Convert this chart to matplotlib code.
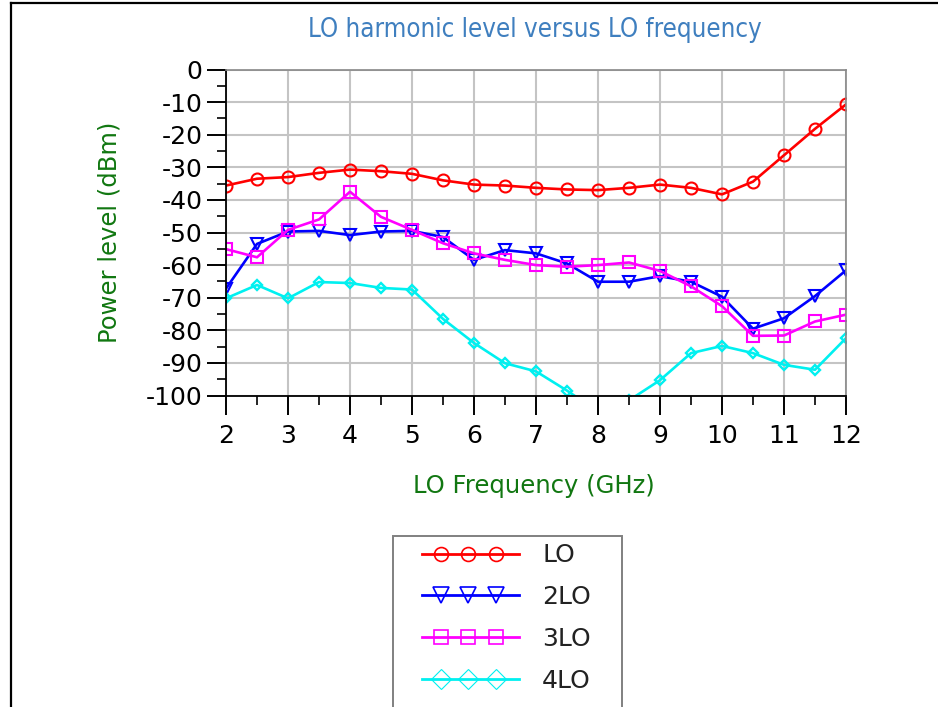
import numpy as np
import matplotlib
matplotlib.use("Agg")
import matplotlib.pyplot as plt
from matplotlib.lines import Line2D
from matplotlib.legend_handler import HandlerBase

plt.rcParams['axes.unicode_minus'] = False
plt.rcParams['font.family'] = ['DejaVu Sans']

# ---- data ----
freq = [2, 2.5, 3, 3.5, 4, 4.5, 5, 5.5, 6, 6.5, 7, 7.5, 8, 8.5, 9, 9.5, 10, 10.5, 11, 11.5, 12]
lo1 = [-35.6, -33.5, -33.0, -31.7, -30.7, -31.2, -32.0, -34.0, -35.3, -35.6, -36.3,
       -36.8, -37.0, -36.3, -35.3, -36.3, -38.3, -34.4, -26.3, -18.2, -10.7]
lo2 = [-67.2, -53.5, -49.7, -49.5, -50.8, -49.7, -49.5, -51.4, -58.4, -55.4, -56.4,
       -59.5, -65.1, -65.1, -63.4, -65.1, -69.7, -79.5, -76.3, -69.5, -61.6]
lo3 = [-55.1, -57.6, -49.2, -46.0, -37.5, -45.2, -49.2, -53.3, -56.4, -58.4, -60.0,
       -60.5, -60.0, -59.2, -61.8, -66.5, -72.6, -81.7, -81.6, -77.3, -75.2]
lo4 = [-70.2, -66.1, -70.2, -65.2, -65.5, -67.0, -67.5, -76.5, -83.9, -90.1, -92.6,
       -98.5, -105.0, -101.5, -95.3, -87.0, -84.8, -87.0, -90.6, -92.1, -82.4]
series_labels = ["LO", "2LO", "3LO", "4LO"]
xticks = [2, 3, 4, 5, 6, 7, 8, 9, 10, 11, 12]
yticks = [0, -10, -20, -30, -40, -50, -60, -70, -80, -90, -100]

W, H = 938, 707
fig = plt.figure(figsize=(W / 100, H / 100), dpi=100)
ax = fig.add_axes([226 / W, 1 - 395.5 / H, (846 - 226) / W, (395.5 - 69.5) / H])

styles = [
    dict(color='#ff0000', marker='o', ms=8.6, mew=1.5),
    dict(color='#0000ff', marker='v', ms=8.6, mew=1.5),
    dict(color='#ff00ff', marker='s', ms=8.0, mew=1.5),
    dict(color='#00f0f0', marker='D', ms=5.4, mew=1.7),
]
legend_ms = [10, 11, 10, 9.8]
legend_mew = [1.2, 1.2, 1.2, 0.8]

lines = []
for ys, lab, st in zip([lo1, lo2, lo3, lo4], series_labels, styles):
    ln, = ax.plot(freq, ys, color=st['color'], lw=1.9, marker=st['marker'],
                  markersize=st['ms'], markeredgewidth=st['mew'],
                  fillstyle='none', label=lab)
    lines.append(ln)

ax.set_xlim(2, 12)
ax.set_ylim(-100, 0)
ax.set_xticks(xticks)
ax.set_xticklabels([str(v) for v in xticks])
ax.set_yticks(yticks)
ax.set_yticklabels([str(v) for v in yticks])
ax.set_xticks(np.arange(2.5, 12, 1.0), minor=True)
ax.set_yticks(np.arange(-95, 0, 10.0), minor=True)
ax.tick_params(which='major', direction='out', length=13.7, width=1.4, pad=3.2,
               labelsize=18, color='black')
ax.tick_params(axis='x', which='major', pad=6.5)
ax.tick_params(which='minor', direction='out', length=6.8, width=1.2, color='black')

ax.grid(True, which='major', color='#c4c4c4', lw=1.5)
ax.set_axisbelow(True)
for s in ['left', 'bottom']:
    ax.spines[s].set_color('black')
    ax.spines[s].set_linewidth(1.3)
for s in ['top', 'right']:
    ax.spines[s].set_color('#888888')
    ax.spines[s].set_linewidth(1.2)

# ---- texts ----
fig.text(535 / W, 1 - 30 / H, "LO harmonic level versus LO frequency",
         ha='center', va='center', fontsize=18.5, color='#3f7fbf',
         fontstretch='condensed')
fig.text(534 / W, 1 - 486 / H, "LO Frequency (GHz)", ha='center', va='center',
         fontsize=17.5, color='#117711')
fig.text(110 / W, 1 - 232.5 / H, "Power level (dBm)", ha='center', va='center',
         rotation=90, fontsize=17.5, color='#117711')

# ---- figure border ----
fig.add_artist(Line2D([11 / W, 11 / W], [0, 1 - 3 / H], transform=fig.transFigure,
                      color='black', lw=1.6))
fig.add_artist(Line2D([11 / W, 1], [1 - 3 / H, 1 - 3 / H], transform=fig.transFigure,
                      color='black', lw=1.6))


# ---- legend ----
class ThreeMarkHandler(HandlerBase):
    def __init__(self, ms, mew):
        super().__init__()
        self.ms = ms
        self.mew = mew

    def create_artists(self, legend, orig, xdescent, ydescent, width, height,
                       fontsize, trans):
        y = height / 2 - ydescent
        x0 = -xdescent
        ln = Line2D([x0 + 0.18 * width, x0 + width], [y, y],
                    color=orig.get_color(), lw=2.0)
        xm = [x0 + f * width for f in (0.34, 0.569, 0.805)]
        mk = Line2D(xm, [y] * 3, linestyle='none', marker=orig.get_marker(),
                    markersize=self.ms, markeredgewidth=self.mew,
                    markeredgecolor=orig.get_color(), fillstyle='none')
        ln.set_transform(trans)
        mk.set_transform(trans)
        return [ln, mk]


blank = Line2D([], [], linestyle='none')
hmap = {ln: ThreeMarkHandler(ms, mew) for ln, ms, mew in zip(lines, legend_ms, legend_mew)}
leg = fig.legend(lines + [blank], series_labels + [' '], loc='upper left',
                 bbox_to_anchor=(393 / W, 0, 229 / W, 1 - 535.7 / H),
                 bbox_transform=fig.transFigure, mode='expand', borderaxespad=0,
                 borderpad=0.31, handlelength=4.73, handletextpad=0.92,
                 labelspacing=0.71, prop=dict(size=18), frameon=True,
                 fancybox=False, edgecolor='#808080', framealpha=1,
                 handler_map=hmap)
leg.get_frame().set_linewidth(1.4)
for t in leg.get_texts():
    t.set_color('#222222')

fig.savefig("out.png", dpi=100)
